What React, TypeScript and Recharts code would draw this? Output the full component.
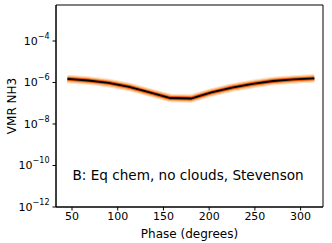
import React from 'react';
import { LineChart, Line, XAxis, YAxis, ReferenceArea, ReferenceDot } from 'recharts';

const phases = [45, 67.5, 90, 112.5, 135, 157.5, 180, 202.5, 225, 247.5, 270, 292.5, 315];
const vmr = [1.48e-6, 1.25e-6, 9.5e-7, 6.1e-7, 3.3e-7, 1.79e-7, 1.69e-7, 3.3e-7, 5.7e-7, 8.5e-7, 1.18e-6, 1.4e-6, 1.59e-6];
const xTicks = [50, 100, 150, 200, 250, 300];
const yTicks = [1e-12, 1e-10, 1e-8, 1e-6, 1e-4];
const yExponents = [-12, -10, -8, -6, -4];
const annotation = 'B: Eq chem, no clouds, Stevenson';

const data = phases.map((p, i) => ({ phase: p, v: vmr[i] }));

const X_DOMAIN: [number, number] = [32.5, 324.5];
const Y_DOMAIN: [number, number] = [1e-12, 5.43e-3];
const FONT = 'DejaVu Sans';

const YTick = (props: any) => {
  const { x, y, payload } = props;
  const idx = yTicks.findIndex((t) => Math.abs(Math.log10(t) - Math.log10(payload.value)) < 1e-6);
  const exp = idx >= 0 ? yExponents[idx] : Math.round(Math.log10(payload.value));
  return (
    <text x={x} y={y} textAnchor="end" fontFamily={FONT} fill="#000">
      <tspan fontSize={11} dy="0.35em">10</tspan>
      <tspan fontSize={8} dy="-0.75em">{'\u2212' + Math.abs(exp)}</tspan>
    </text>
  );
};

export default function App() {
  return (
    <div style={{ position: 'absolute', left: 0, top: 0, width: 332, height: 243, background: '#fff' }}>
      <LineChart width={332} height={243} data={data} margin={{ top: 5, right: 9, bottom: 0, left: 0 }}>
        <XAxis
          dataKey="phase"
          type="number"
          domain={X_DOMAIN}
          ticks={xTicks}
          allowDataOverflow
          stroke="#000"
          tickSize={3.5}
          tickMargin={2}
          height={36}
          tick={{ fontSize: 11, fontFamily: FONT, fill: '#000' }}
          label={{ value: 'Phase (degrees)', position: 'insideBottom', offset: 5, style: { fontSize: 12, fontFamily: FONT, fill: '#000' } }}
        />
        <YAxis
          type="number"
          scale="log"
          domain={Y_DOMAIN}
          ticks={yTicks}
          allowDataOverflow
          stroke="#000"
          tickSize={3.5}
          tickMargin={3}
          width={56}
          tick={<YTick />}
          label={{ value: 'VMR NH3', angle: -90, position: 'insideLeft', offset: 12, style: { fontSize: 12, fontFamily: FONT, fill: '#000', textAnchor: 'middle' } }}
        />
        <ReferenceArea x1={X_DOMAIN[0]} x2={X_DOMAIN[1]} y1={Y_DOMAIN[0]} y2={Y_DOMAIN[1]} fill="none" stroke="#000" strokeWidth={1} fillOpacity={0} />
        <Line dataKey="v" stroke="#fdd0a2" strokeWidth={8.5} strokeOpacity={0.7} dot={false} isAnimationActive={false} />
        <Line dataKey="v" stroke="#fdae6b" strokeWidth={6} dot={false} isAnimationActive={false} />
        <Line dataKey="v" stroke="#e6550d" strokeWidth={3.8} dot={false} isAnimationActive={false} />
        <Line dataKey="v" stroke="#000" strokeWidth={1.8} dot={false} isAnimationActive={false} />
        <ReferenceDot
          x={177}
          y={3.5e-11}
          r={0}
          fill="none"
          stroke="none"
          label={{ value: annotation, position: 'center', style: { fontSize: 13.6, fontFamily: FONT, fill: '#000' } }}
        />
      </LineChart>
    </div>
  );
}
